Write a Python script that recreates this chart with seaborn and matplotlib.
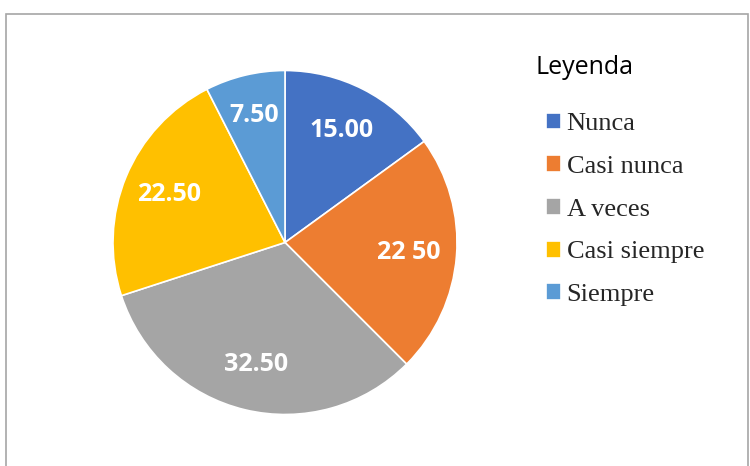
import matplotlib
matplotlib.use("Agg")
import matplotlib.pyplot as plt
import seaborn as sns
import numpy as np
from matplotlib.patches import Rectangle

categorias = ["Nunca", "Casi nunca", "A veces", "Casi siempre", "Siempre"]
valores = [15.00, 22.50, 32.50, 22.50, 7.50]
etiquetas = ["15.00", "22 50", "32.50", "22.50", "7.50"]
colores = ["#4472C4", "#ED7D31", "#A5A5A5", "#FFC000", "#5B9BD5"]

sns.set_theme(style="white")
plt.rcParams['font.family'] = ['DejaVu Sans']

W, H = 750, 466
fig = plt.figure(figsize=(W / 100, H / 100), dpi=100)

# pie axes: centre ~ (285, 242), radius ~ 172 px
cx, cy, r = 285, 242.5, 172
ax = fig.add_axes([(cx - r) / W, (H - cy - r) / H, 2 * r / W, 2 * r / H])

wedges, _ = ax.pie(
    valores,
    colors=sns.color_palette(colores),
    startangle=90,
    counterclock=False,
    wedgeprops=dict(edgecolor="white", linewidth=1.2),
    radius=1,
)
ax.set_xlim(-1, 1)
ax.set_ylim(-1, 1)
ax.set_aspect("equal")

# data labels inside the slices (the small slice gets its label a bit further out)
dist = [0.73, 0.72, 0.73, 0.73, 0.76]
for w, txt, d in zip(wedges, etiquetas, dist):
    mid = np.deg2rad((w.theta1 + w.theta2) / 2)
    ax.text(d * np.cos(mid), d * np.sin(mid), txt,
            ha="center", va="center", color="white",
            fontsize=18, fontweight="bold", family=["Open Sans", "DejaVu Sans"])

# legend title drawn apart so it can sit left of the markers
fig.text(536 / W, 1 - 67 / H, "Leyenda", ha="left", va="center",
         fontsize=18, family=["Open Sans", "DejaVu Sans"], color="black")

leg = fig.legend(
    wedges, categorias,
    loc="upper left",
    bbox_to_anchor=(535 / W, 1 - 102 / H),
    frameon=False,
    prop=dict(family=["Liberation Serif"], size=19),
    handlelength=0.6, handleheight=0.6, handletextpad=0.2,
    labelspacing=0.76, borderaxespad=0,
)

# chart border (bottom edge is cut off in the reference)
fig.patches.append(Rectangle((6 / W, -0.05), 742 / W, 1.05 - 14 / H,
                             transform=fig.transFigure, fill=False,
                             edgecolor="#A6A6A6", linewidth=1.2))

fig.savefig("out.png", dpi=100)
